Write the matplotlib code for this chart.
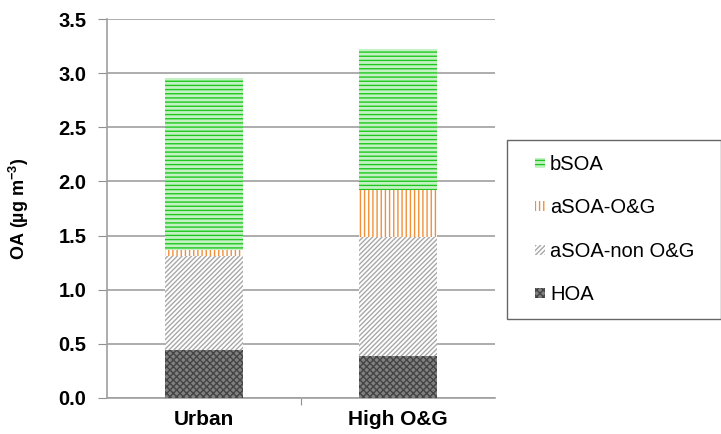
import matplotlib
matplotlib.use("Agg")
import matplotlib.pyplot as plt
from matplotlib.patches import Rectangle
from matplotlib.legend_handler import HandlerPatch
import numpy as np

plt.rcParams['font.family'] = ['Liberation Sans', 'DejaVu Sans']
plt.rcParams['mathtext.fontset'] = 'custom'
plt.rcParams['mathtext.bf'] = 'Liberation Sans:bold'
plt.rcParams['mathtext.rm'] = 'Liberation Sans:bold'
plt.rcParams['hatch.linewidth'] = 1.0

categories = ["Urban", "High O&G"]
series_names = ["HOA", "aSOA-non O&G", "aSOA-O&G", "bSOA"]
hoa = [0.44, 0.39]
asoa_non = [0.87, 1.10]
asoa_og = [0.06, 0.43]
bsoa = [1.59, 1.30]
y_ticks = [0.0, 0.5, 1.0, 1.5, 2.0, 2.5, 3.0, 3.5]

styles = [
    dict(facecolor='#808080', edgecolor='#444444', hatch='xxxxx'),
    dict(facecolor='white', edgecolor='#a8a8a8', hatch='///////'),
    dict(facecolor='white', edgecolor='#f0903a', hatch='||||'),
    dict(facecolor='#c4f2c4', edgecolor='#1ec81e', hatch='----'),
]

fig = plt.figure(figsize=(7.21, 4.34), dpi=100)
ax = fig.add_axes([0.148, 0.083, 0.539, 0.873])

x = np.arange(len(categories))
bottom = np.zeros(len(categories))
handles = []
for name, vals, st in zip(series_names, [hoa, asoa_non, asoa_og, bsoa], styles):
    b = ax.bar(x, vals, width=0.4, bottom=bottom, label=name, linewidth=0, zorder=3, **st)
    handles.append(b.patches[0])
    bottom += np.array(vals)

ax.set_xlim(-0.5, 1.5)
ax.set_ylim(0, 3.5)
ax.set_yticks(y_ticks)
ax.set_yticklabels([f"{t:.1f}" for t in y_ticks], fontsize=14.5, fontweight='bold')
ax.set_xticks([0.5], minor=False)
ax.set_xticklabels([])
ax.set_xticks(x, minor=True)
ax.set_xticklabels(categories, minor=True, fontsize=15, fontweight='bold')
ax.tick_params(axis='x', which='minor', length=0, pad=9)
ax.tick_params(axis='x', which='major', length=5, color='#909090', direction='out')
ax.tick_params(axis='y', length=6.5, color='#909090', direction='out', pad=8)
ax.yaxis.grid(True, color='#a0a0a0', linewidth=1.2, zorder=0)
ax.set_axisbelow(True)
for s in ['top', 'right']:
    ax.spines[s].set_visible(False)
for s in ['left', 'bottom']:
    ax.spines[s].set_color('#a0a0a0')
    ax.spines[s].set_linewidth(1.2)

ax.set_ylabel("OA (µg m$^{-3}$)", fontsize=13, fontweight='bold', labelpad=20)


def small_square(legend, orig_handle, xdescent, ydescent, width, height, fontsize):
    s = 7.2
    return Rectangle((-xdescent + width - s, -ydescent + (height - s) / 2), s, s)


leg = fig.legend(handles[::-1], series_names[::-1], loc='upper left',
                 bbox_to_anchor=(0.703, 0.677, 0.297, 0.0), mode='expand',
                 fontsize=14.5, frameon=True, fancybox=False, borderaxespad=0,
                 handlelength=1.15, handleheight=0.7, handletextpad=0.25,
                 labelspacing=1.2, borderpad=0.75,
                 handler_map={Rectangle: HandlerPatch(patch_func=small_square)})
leg.get_frame().set_edgecolor('#404040')
leg.get_frame().set_linewidth(1.0)

fig.savefig("out.png", dpi=100)
